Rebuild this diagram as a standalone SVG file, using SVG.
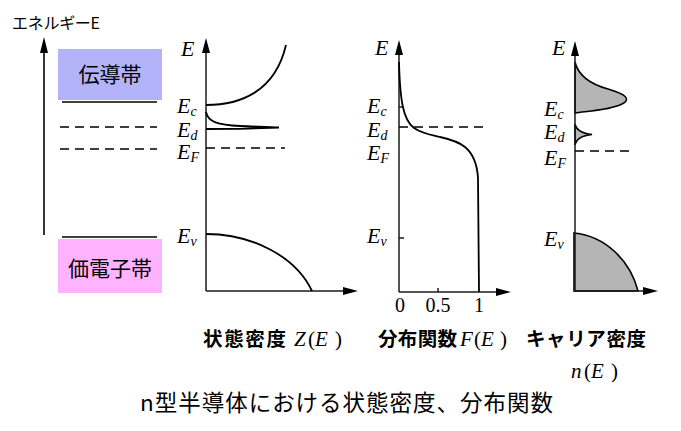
<svg xmlns="http://www.w3.org/2000/svg" width="681" height="431" viewBox="0 0 681 431">
<style>
.ax{stroke:#1a1a1a;stroke-width:1.5;fill:none}
.cv{stroke:#000;stroke-width:1.8;fill:none}
.fl{stroke:#000;stroke-width:1.6;fill:#b4b5b4}
.ds{stroke:#000;stroke-width:1.3;stroke-dasharray:9 6;fill:none}
.sl{stroke:#000;stroke-width:1.6;fill:none}
.ah{fill:#000}
.jp{font-family:"Noto Sans CJK JP","Noto Sans",sans-serif}
.m{font-family:"Liberation Serif",serif;font-style:italic;font-size:22px;fill:#000}
.s{font-size:14px}
.u{font-family:"Liberation Serif",serif;font-style:normal;font-size:20px;fill:#000}
.f{font-family:"Liberation Serif",serif;font-style:italic;font-size:21px;fill:#000}
.n{font-style:normal}
.b{font-family:"Noto Sans CJK JP",sans-serif;font-weight:bold;font-size:19.5px;fill:#000}
</style>
<rect width="681" height="431" fill="#fff"/>
<g id="energy-axis">
<line class="sl" x1="44" y1="235" x2="44" y2="50"/>
<polygon class="ah" points="44,37 40,53 48,53"/>
<text class="jp" x="12" y="29" font-size="16" textLength="88">エネルギーE</text>
</g>
<g id="conduction-band">
<rect x="58" y="49" width="104" height="51" fill="#b3b3fa"/>
<text class="jp" x="110" y="82" font-size="21" text-anchor="middle">伝導帯</text>
</g>
<g id="valence-band">
<rect x="58" y="239" width="104" height="54" fill="#ffb3ff"/>
<text class="jp" x="110" y="276" font-size="21" text-anchor="middle">価電子帯</text>
</g>
<g id="band-levels">
<line class="sl" x1="62" y1="102" x2="157" y2="102"/>
<line class="ds" x1="60" y1="127" x2="157" y2="127"/>
<line class="ds" x1="60" y1="149" x2="157" y2="149"/>
<line class="sl" x1="62" y1="237" x2="157" y2="237"/>
</g>
<g id="graph-Z">
<line class="ax" x1="206" y1="291" x2="206" y2="50"/>
<polygon class="ah" points="206,38 202,53 210,53"/>
<line class="ax" x1="206" y1="291" x2="346" y2="291"/>
<polygon class="ah" points="358,291 343,287 343,295"/>
<path class="cv" d="M206,105 C240,105 275,92 286,45"/>
<path class="cv" stroke-width="1.5" d="M206,112 C208,122 218,125 240,126 C258,126.7 270,127 279,127.5 L240,128.8 L206,129"/>
<line class="ds" x1="206" y1="148" x2="285" y2="148"/>
<path class="cv" d="M206,234 C250,234 295,255 312,291"/>
<text class="m" x="181" y="56">E</text>
<text class="m" x="177" y="113">E<tspan class="s" dy="3">c</tspan></text>
<text class="m" x="177" y="137">E<tspan class="s" dy="3">d</tspan></text>
<text class="m" x="177" y="159">E<tspan class="s" dy="3">F</tspan></text>
<text class="m" x="177" y="243">E<tspan class="s" dy="3">v</tspan></text>
</g>
<g id="graph-F">
<line class="ax" x1="399" y1="292" x2="399" y2="52"/>
<polygon class="ah" points="399,40 395,55 403,55"/>
<line class="ax" x1="399" y1="292" x2="499" y2="292"/>
<polygon class="ah" points="511,292 496,288 496,296"/>
<line class="ax" x1="399" y1="107" x2="404" y2="107"/>
<line class="ax" x1="399" y1="238" x2="404" y2="238"/>
<line class="ax" x1="438" y1="292" x2="438" y2="288"/>
<path class="cv" d="M399,62 C400,100 403,120 414,128 C423,134 432,135 440,137 C458,141 476,146 478,178 L479,292"/>
<line class="ds" x1="399" y1="127" x2="484" y2="127"/>
<text class="m" x="375" y="55">E</text>
<text class="m" x="367" y="113">E<tspan class="s" dy="3">c</tspan></text>
<text class="m" x="367" y="137">E<tspan class="s" dy="3">d</tspan></text>
<text class="m" x="367" y="160">E<tspan class="s" dy="3">F</tspan></text>
<text class="m" x="367" y="243">E<tspan class="s" dy="3">v</tspan></text>
<text class="u" x="400" y="312" text-anchor="middle">0</text>
<text class="u" x="438" y="312" text-anchor="middle">0.5</text>
<text class="u" x="479" y="312" text-anchor="middle">1</text>
</g>
<g id="graph-n">
<path class="fl" d="M575,62 C578,75 590,84 608,89 C625,94 632,99 622,104 C610,110 590,111 575,113 Z"/>
<path class="fl" stroke-width="1.4" d="M575,124 Q577,133 592,134.5 Q577,136 575,145 Z"/>
<path class="fl" d="M574,233 C605,236 630,260 638,291 L574,291 Z"/>
<line class="ax" x1="575" y1="291" x2="575" y2="53"/>
<polygon class="ah" points="575,41 571,56 579,56"/>
<line class="ax" x1="574" y1="291" x2="646" y2="291"/>
<polygon class="ah" points="658,291 643,287 643,295"/>
<line class="ds" x1="575" y1="151" x2="630" y2="151"/>
<text class="m" x="552" y="55">E</text>
<text class="m" x="544" y="116">E<tspan class="s" dy="3">c</tspan></text>
<text class="m" x="544" y="139">E<tspan class="s" dy="3">d</tspan></text>
<text class="m" x="544" y="165">E<tspan class="s" dy="3">F</tspan></text>
<text class="m" x="544" y="246">E<tspan class="s" dy="3">v</tspan></text>
</g>
<g id="labels">
<text class="b" x="203" y="346" textLength="83">状態密度</text>
<text class="f" x="294 308 315 335" y="346">Z<tspan class="n">(</tspan>E<tspan class="n">)</tspan></text>
<text class="b" x="378" y="346" textLength="79">分布関数</text>
<text class="f" x="460 474 481 500" y="346">F<tspan class="n">(</tspan>E<tspan class="n">)</tspan></text>
<text class="b" x="526" y="346" textLength="120">キャリア密度</text>
<text class="f" x="571 584 591 611" y="378">n<tspan class="n">(</tspan>E<tspan class="n">)</tspan></text>
<text class="jp" x="140" y="411" font-size="22.5" textLength="413">n型半導体における状態密度、分布関数</text>
</g>
</svg>
